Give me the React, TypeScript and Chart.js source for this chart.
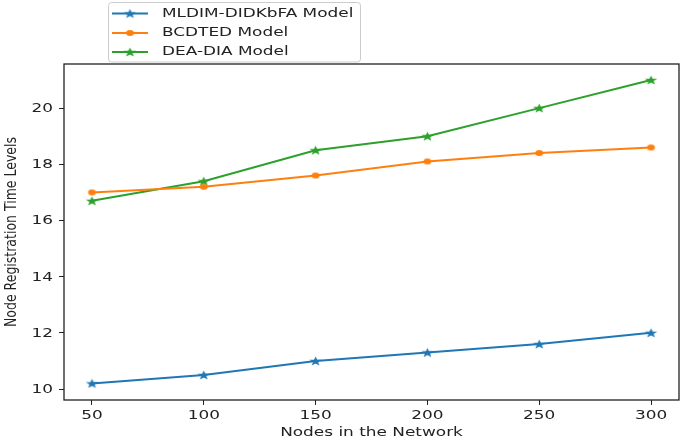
import React, { useEffect, useRef } from 'react';
import { Chart, registerables } from 'chart.js';
Chart.register(...registerables);

const xValues = [50, 100, 150, 200, 250, 300];
const mldim = [10.2, 10.5, 11.0, 11.3, 11.6, 12.0];
const bcdted = [17.0, 17.2, 17.6, 18.1, 18.4, 18.6];
const deaDia = [16.7, 17.4, 18.5, 19.0, 20.0, 21.0];
const seriesNames = ['MLDIM-DIDKbFA Model', 'BCDTED Model', 'DEA-DIA Model'];
const seriesColors = ['#1f77b4', '#ff7f0e', '#2ca02c'];
const xTicks = [50, 100, 150, 200, 250, 300];
const yTicks = [10, 12, 14, 16, 18, 20];
const xTitle = 'Nodes in the Network';
const yTitle = 'Node Registration Time Levels';

const SX = 1.3;
const FONT = '13px "DejaVu Sans"';
const YFONT = '12.5px "DejaVu Sans"';

function makeStar(color: string) {
  const c = document.createElement('canvas');
  c.width = 15;
  c.height = 12;
  const ctx = c.getContext('2d')!;
  ctx.translate(7.5, 6.4);
  ctx.scale(SX, 1);
  ctx.beginPath();
  for (let i = 0; i < 10; i++) {
    const r = i % 2 === 0 ? 5 : 2.1;
    const a = -Math.PI / 2 + (i * Math.PI) / 5;
    ctx.lineTo(r * Math.cos(a), r * Math.sin(a));
  }
  ctx.closePath();
  ctx.fillStyle = color;
  ctx.fill();
  return c;
}

function makeDot(color: string) {
  const c = document.createElement('canvas');
  c.width = 11;
  c.height = 8;
  const ctx = c.getContext('2d')!;
  ctx.beginPath();
  ctx.ellipse(5.5, 4, 3 * SX, 3, 0, 0, Math.PI * 2);
  ctx.fillStyle = color;
  ctx.fill();
  return c;
}

function sText(ctx: CanvasRenderingContext2D, text: string, x: number, y: number, align: CanvasTextAlign) {
  ctx.save();
  ctx.translate(x, y);
  ctx.scale(SX, 1);
  ctx.textAlign = align;
  ctx.fillText(text, 0, 0);
  ctx.restore();
}

export default function App() {
  const ref = useRef<HTMLCanvasElement | null>(null);
  useEffect(() => {
    document.body.style.margin = '0';
    const markers = [makeStar(seriesColors[0]), makeDot(seriesColors[1]), makeStar(seriesColors[2])];
    const seriesData = [mldim, bcdted, deaDia];

    const decor = {
      id: 'decor',
      afterDraw(chart: any) {
        const { ctx, chartArea: a, scales } = chart;
        ctx.save();
        ctx.strokeStyle = '#222';
        ctx.lineWidth = 1.3;
        ctx.strokeRect(a.left, a.top, a.right - a.left, a.bottom - a.top);
        ctx.fillStyle = '#222';
        ctx.font = FONT;
        ctx.textBaseline = 'middle';
        yTicks.forEach((v) => sText(ctx, String(v), a.left - 11, scales.y.getPixelForValue(v) + 0.5, 'right'));
        ctx.textBaseline = 'top';
        xTicks.forEach((v) => sText(ctx, String(v), scales.x.getPixelForValue(v), a.bottom + 9, 'center'));
        ctx.textBaseline = 'middle';
        sText(ctx, xTitle, (a.left + a.right) / 2, 433, 'center');
        ctx.save();
        ctx.font = YFONT;
        ctx.translate(12, (a.top + a.bottom) / 2);
        ctx.rotate(-Math.PI / 2);
        ctx.scale(1, SX);
        ctx.textAlign = 'center';
        ctx.fillText(yTitle, 0, 0);
        ctx.restore();

        // legend
        ctx.beginPath();
        (ctx as any).roundRect(108.5, 2.5, 252, 59.5, 3);
        ctx.fillStyle = 'rgba(255,255,255,0.85)';
        ctx.fill();
        ctx.strokeStyle = '#cccccc';
        ctx.lineWidth = 1;
        ctx.stroke();
        const rows = [13.5, 33, 52];
        rows.forEach((ry, i) => {
          ctx.strokeStyle = seriesColors[i];
          ctx.lineWidth = 2;
          ctx.beginPath();
          ctx.moveTo(112, ry);
          ctx.lineTo(148, ry);
          ctx.stroke();
          const m = markers[i];
          ctx.drawImage(m, 130 - m.width / 2, ry - m.height / 2);
          ctx.fillStyle = '#222';
          sText(ctx, seriesNames[i], 162, ry, 'left');
        });
        ctx.restore();
      },
    };

    const chart = new Chart(ref.current!, {
      type: 'line',
      data: {
        datasets: seriesNames.map((name, i) => ({
          label: name,
          data: xValues.map((x, j) => ({ x, y: seriesData[i][j] })),
          borderColor: seriesColors[i],
          backgroundColor: seriesColors[i],
          borderWidth: 2,
          pointStyle: markers[i] as any,
          pointRadius: 4,
          tension: 0,
          fill: false,
        })),
      },
      options: {
        animation: false,
        responsive: true,
        maintainAspectRatio: false,
        layout: { padding: { top: 64, left: 0, right: 2, bottom: 0 } },
        plugins: { legend: { display: false }, tooltip: { enabled: false } },
        scales: {
          x: {
            type: 'linear',
            min: 37.5,
            max: 312.5,
            afterBuildTicks: (s: any) => {
              s.ticks = xTicks.map((v) => ({ value: v }));
            },
            afterFit: (s: any) => {
              s.height = 40;
            },
            ticks: { display: false },
            border: { display: false },
            grid: { drawOnChartArea: false, drawTicks: true, tickLength: 5, color: '#222', lineWidth: 1 },
          },
          y: {
            type: 'linear',
            min: 9.61,
            max: 21.57,
            afterBuildTicks: (s: any) => {
              s.ticks = yTicks.map((v) => ({ value: v }));
            },
            afterFit: (s: any) => {
              s.width = 64;
            },
            ticks: { display: false },
            border: { display: false },
            grid: { drawOnChartArea: false, drawTicks: true, tickLength: 5, color: '#222', lineWidth: 1 },
          },
        },
      },
      plugins: [decor],
    });
    return () => chart.destroy();
  }, []);

  return (
    <div style={{ position: 'absolute', left: 0, top: 0, width: 685, height: 440 }}>
      <canvas ref={ref} />
    </div>
  );
}
